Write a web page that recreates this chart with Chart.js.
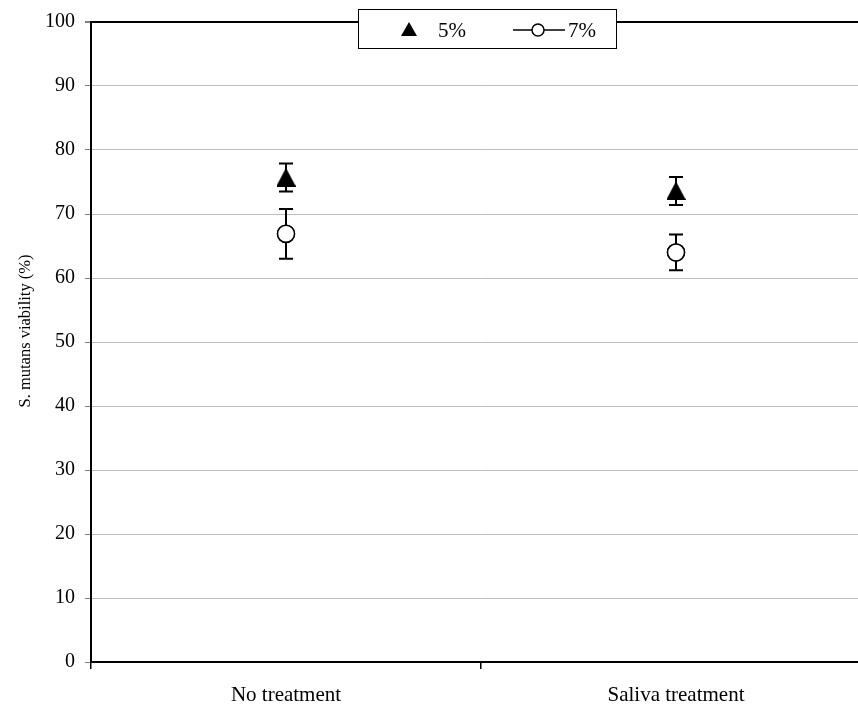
<!DOCTYPE html>
<html>
<head>
<meta charset="utf-8">
<script src="https://cdn.jsdelivr.net/npm/chart.js@4/dist/chart.umd.min.js"></script>
<style>
  html, body { margin: 0; padding: 0; background: #fff; overflow: hidden; }
  #wrap { width: 882px; height: 708px; }
</style>
</head>
<body>
<div id="wrap"><canvas id="c" width="882" height="708"></canvas></div>
<script>
// Categories and measured viability (%) with error half-widths
const categories = ['No treatment', 'Saliva treatment'];
const viability5 = [75.7, 73.6];
const error5 = [2.2, 2.2];
const viability7 = [66.9, 64.0];
const error7 = [3.9, 2.8];
const yTicks = [0, 10, 20, 30, 40, 50, 60, 70, 80, 90, 100];
const seriesNames = ['5%', '7%'];
const yTitle = 'S. mutans viability (%)';

const FONT = '"Liberation Serif", "Times New Roman", serif';

// Filled triangle marker, centred on its bounding box
function makeTriangle(w, h) {
  const c = document.createElement('canvas');
  c.width = w; c.height = h;
  const g = c.getContext('2d');
  g.fillStyle = '#000';
  g.beginPath();
  g.moveTo(w / 2, 0);
  g.lineTo(w, h);
  g.lineTo(0, h);
  g.closePath();
  g.fill();
  return c;
}
const triangleMarker = makeTriangle(19, 18);

// Vertical error bars with caps, placed through the chart scales
const errorBars = {
  id: 'errorBars',
  afterDatasetsDraw(chart) {
    const { ctx, scales: { x, y } } = chart;
    const sets = [[viability5, error5], [viability7, error7]];
    ctx.save();
    ctx.strokeStyle = '#000';
    ctx.lineWidth = 2;
    sets.forEach(([vals, errs]) => {
      vals.forEach((v, i) => {
        const px = Math.round(x.getPixelForValue(i));
        const top = y.getPixelForValue(v + errs[i]);
        const bot = y.getPixelForValue(v - errs[i]);
        ctx.beginPath();
        ctx.moveTo(px, top); ctx.lineTo(px, bot);
        ctx.moveTo(px - 7, top); ctx.lineTo(px + 7, top);
        ctx.moveTo(px - 7, bot); ctx.lineTo(px + 7, bot);
        ctx.stroke();
      });
    });
    ctx.restore();
    // markers sit above the bars
    chart.getSortedVisibleDatasetMetas().forEach(meta => {
      meta.data.forEach(el => el.draw(ctx, chart.chartArea));
    });
  }
};

// Rotated y-axis title
const axisTitle = {
  id: 'axisTitle',
  afterDraw(chart) {
    const ctx = chart.ctx;
    ctx.save();
    ctx.translate(26, 331);
    ctx.rotate(-Math.PI / 2);
    ctx.font = '16.5px ' + FONT;
    ctx.fillStyle = '#000';
    ctx.textAlign = 'center';
    ctx.textBaseline = 'middle';
    ctx.fillText(yTitle, 0, 0);
    ctx.restore();
  }
};

// Boxed legend overlapping the top border
const boxLegend = {
  id: 'boxLegend',
  afterDraw(chart) {
    const ctx = chart.ctx;
    const bx = 358, by = 9, bw = 258, bh = 39;
    ctx.save();
    ctx.fillStyle = '#fff';
    ctx.fillRect(bx, by, bw, bh);
    ctx.strokeStyle = '#000';
    ctx.lineWidth = 1;
    ctx.strokeRect(bx + 0.5, by + 0.5, bw, bh);
    const cy = 30;
    ctx.fillStyle = '#000';
    ctx.beginPath();
    ctx.moveTo(409, cy - 8);
    ctx.lineTo(417, cy + 6);
    ctx.lineTo(401, cy + 6);
    ctx.closePath();
    ctx.fill();
    ctx.font = '21px ' + FONT;
    ctx.textBaseline = 'alphabetic';
    ctx.textAlign = 'left';
    ctx.fillText(seriesNames[0], 438, 37);
    ctx.lineWidth = 1.5;
    ctx.beginPath();
    ctx.moveTo(513, cy); ctx.lineTo(565, cy);
    ctx.stroke();
    ctx.beginPath();
    ctx.arc(538, cy, 6, 0, Math.PI * 2);
    ctx.fillStyle = '#fff';
    ctx.fill();
    ctx.stroke();
    ctx.fillStyle = '#000';
    ctx.fillText(seriesNames[1], 568, 37);
    ctx.restore();
  }
};

new Chart(document.getElementById('c'), {
  type: 'line',
  data: {
    labels: categories,
    datasets: [
      {
        label: seriesNames[0],
        data: viability5,
        showLine: false,
        pointStyle: triangleMarker,
        pointRadius: 10
      },
      {
        label: seriesNames[1],
        data: viability7,
        showLine: false,
        pointStyle: 'circle',
        pointRadius: 8.5,
        pointBackgroundColor: '#fff',
        pointBorderColor: '#000',
        pointBorderWidth: 1.5
      }
    ]
  },
  options: {
    responsive: false,
    animation: false,
    layout: { padding: { top: 22, right: 1, left: 0, bottom: 0 } },
    plugins: { legend: { display: false }, tooltip: { enabled: false } },
    scales: {
      x: {
        type: 'category',
        offset: true,
        grid: {
          offset: true,
          drawOnChartArea: false,
          color: '#000',
          lineWidth: 1.5,
          tickLength: 7
        },
        border: { color: '#000', width: 2 },
        ticks: {
          color: '#000',
          font: { family: FONT, size: 21 },
          padding: 14
        },
        afterFit(scale) { scale.height = 46; }
      },
      y: {
        min: 0,
        max: 100,
        afterBuildTicks(scale) { scale.ticks = yTicks.map(v => ({ value: v })); },
        grid: {
          color: ctx => (ctx.tick && ctx.tick.value === 100) ? '#000' : '#bfbfbf',
          lineWidth: ctx => (ctx.tick && ctx.tick.value === 100) ? 2 : 1,
          tickColor: '#808080',
          tickLength: 6
        },
        border: { color: '#000', width: 2 },
        ticks: {
          color: '#000',
          font: { family: FONT, size: 20 },
          padding: 10
        },
        afterFit(scale) { scale.width = 91; }
      }
    }
  },
  plugins: [errorBars, axisTitle, boxLegend]
});
</script>
</body>
</html>
